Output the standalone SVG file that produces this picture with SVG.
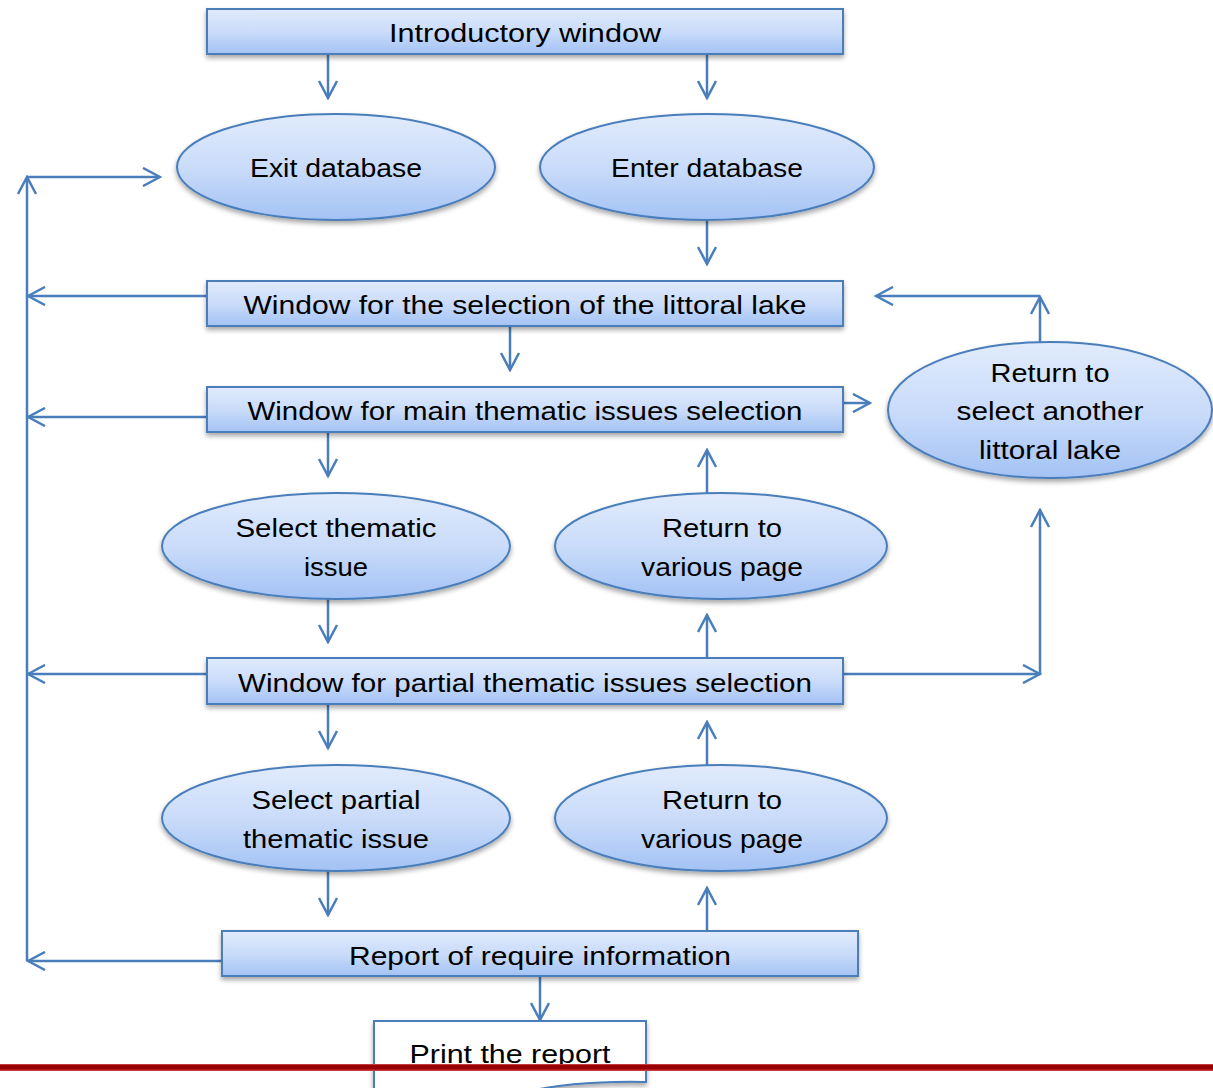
<svg xmlns="http://www.w3.org/2000/svg" width="1213" height="1088" viewBox="0 0 1213 1088">
<defs>
<linearGradient id="g" x1="0" y1="0" x2="0" y2="1">
<stop offset="0" stop-color="#e1ebfc"/>
<stop offset="0.5" stop-color="#cadcfa"/>
<stop offset="1" stop-color="#a3c2f4"/>
</linearGradient>
<filter id="sh" x="-10%" y="-20%" width="120%" height="150%">
<feDropShadow dx="0" dy="3" stdDeviation="2.5" flood-color="#000" flood-opacity="0.35"/>
</filter>
<marker id="ah" viewBox="0 0 20 20" refX="18" refY="10" markerWidth="20" markerHeight="20" markerUnits="userSpaceOnUse" orient="auto">
<path d="M1,1 L18,10 L1,19" fill="none" stroke="#4a7ebb" stroke-width="2.5"/>
</marker>
</defs>
<style>
.box{fill:url(#g);stroke:#4a7ebb;stroke-width:2;filter:url(#sh)}
.t{font-family:"Liberation Sans",Arial,sans-serif;font-size:26px;fill:#000;text-anchor:middle}
.c{fill:none;stroke:#4a7ebb;stroke-width:2.5;marker-end:url(#ah)}
.l{fill:none;stroke:#4a7ebb;stroke-width:2.5}
</style>
<rect width="1213" height="1088" fill="#fff"/>

<g id="connectors">
<path class="c" d="M328,54 V98"/>
<path class="c" d="M707,54 V98"/>
<path class="c" d="M707,220 V264"/>
<path class="c" d="M510,326 V370"/>
<path class="c" d="M843,403 H870"/>
<path class="c" d="M1040,342 V297"/>
<path class="c" d="M1040,296 H876"/>
<path class="c" d="M328,432 V476"/>
<path class="c" d="M707,493 V450"/>
<path class="c" d="M328,599 V642"/>
<path class="c" d="M707,658 V615"/>
<path class="c" d="M843,674 H1040"/>
<path class="c" d="M1040,674 V510"/>
<path class="c" d="M328,704 V748"/>
<path class="c" d="M707,765 V722"/>
<path class="c" d="M328,871 V915"/>
<path class="c" d="M707,931 V888"/>
<path class="c" d="M540,976 V1020"/>
<path class="c" d="M207,296 H28"/>
<path class="c" d="M207,417 H28"/>
<path class="c" d="M207,674 H28"/>
<path class="c" d="M222,961 H28"/>
<path class="c" d="M27,961 V177"/>
<path class="c" d="M27,177 H160"/>
</g>

<g id="intro">
<rect class="box" x="207" y="9" width="636" height="45"/>
<text class="t" x="525" y="42" textLength="272" lengthAdjust="spacingAndGlyphs">Introductory window</text>
</g>
<g id="exit">
<ellipse class="box" cx="336" cy="167" rx="159" ry="53"/>
<text class="t" x="336" y="177" textLength="172" lengthAdjust="spacingAndGlyphs">Exit database</text>
</g>
<g id="enter">
<ellipse class="box" cx="707" cy="167" rx="167" ry="53"/>
<text class="t" x="707" y="177" textLength="192" lengthAdjust="spacingAndGlyphs">Enter database</text>
</g>
<g id="lake">
<rect class="box" x="207" y="281" width="636" height="45"/>
<text class="t" x="525" y="314" textLength="563" lengthAdjust="spacingAndGlyphs">Window for the selection of the littoral lake</text>
</g>
<g id="main">
<rect class="box" x="207" y="387" width="636" height="45"/>
<text class="t" x="525" y="420" textLength="555" lengthAdjust="spacingAndGlyphs">Window for main thematic issues selection</text>
</g>
<g id="another">
<ellipse class="box" cx="1050" cy="410" rx="162" ry="68"/>
<text class="t" x="1050" y="382" textLength="119" lengthAdjust="spacingAndGlyphs">Return to</text>
<text class="t" x="1050" y="420" textLength="187" lengthAdjust="spacingAndGlyphs">select another</text>
<text class="t" x="1050" y="459" textLength="142" lengthAdjust="spacingAndGlyphs">littoral lake</text>
</g>
<g id="selthem">
<ellipse class="box" cx="336" cy="546" rx="174" ry="53"/>
<text class="t" x="336" y="537" textLength="201" lengthAdjust="spacingAndGlyphs">Select thematic</text>
<text class="t" x="336" y="576" textLength="64" lengthAdjust="spacingAndGlyphs">issue</text>
</g>
<g id="ret1">
<ellipse class="box" cx="721" cy="546" rx="166" ry="53"/>
<text class="t" x="722" y="537" textLength="120" lengthAdjust="spacingAndGlyphs">Return to</text>
<text class="t" x="722" y="576" textLength="162" lengthAdjust="spacingAndGlyphs">various page</text>
</g>
<g id="partial">
<rect class="box" x="207" y="658" width="636" height="46"/>
<text class="t" x="525" y="692" textLength="574" lengthAdjust="spacingAndGlyphs">Window for partial thematic issues selection</text>
</g>
<g id="selpart">
<ellipse class="box" cx="336" cy="818" rx="174" ry="53"/>
<text class="t" x="336" y="809" textLength="169" lengthAdjust="spacingAndGlyphs">Select partial</text>
<text class="t" x="336" y="848" textLength="186" lengthAdjust="spacingAndGlyphs">thematic issue</text>
</g>
<g id="ret2">
<ellipse class="box" cx="721" cy="818" rx="166" ry="53"/>
<text class="t" x="722" y="809" textLength="120" lengthAdjust="spacingAndGlyphs">Return to</text>
<text class="t" x="722" y="848" textLength="162" lengthAdjust="spacingAndGlyphs">various page</text>
</g>
<g id="report">
<rect class="box" x="222" y="931" width="636" height="45"/>
<text class="t" x="540" y="965" textLength="382" lengthAdjust="spacingAndGlyphs">Report of require information</text>
</g>
<g id="print">
<path d="M374,1095 V1021 H646 V1082 C600,1081 560,1084 525,1092" fill="#fff" stroke="#4a7ebb" stroke-width="2" filter="url(#sh)"/>
<text class="t" x="510" y="1063" textLength="201" lengthAdjust="spacingAndGlyphs">Print the report</text>
</g>
<g id="rule">
<rect x="0" y="1064" width="1213" height="7" fill="#c33a3a"/>
<rect x="0" y="1065" width="1213" height="4.5" fill="#990000"/>
</g>
</svg>
